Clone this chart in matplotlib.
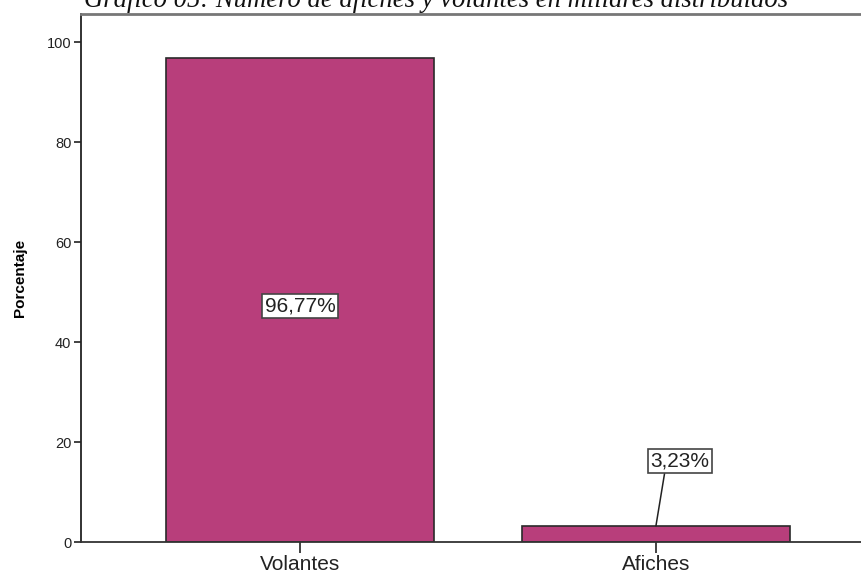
import matplotlib
matplotlib.use("Agg")
import matplotlib.pyplot as plt

categorias = ["Volantes", "Afiches"]
porcentajes = [96.77, 3.23]
etiquetas = ["96,77%", "3,23%"]
titulo = "Gráfico 05: Número de afiches y volantes en millares distribuidos"

plt.rcParams['font.family'] = ['Liberation Sans', 'DejaVu Sans']

fig = plt.figure(figsize=(8.61, 5.84), dpi=100)
ax = fig.add_axes([81 / 861, 42 / 584, 1 - 81 / 861, (542 - 14) / 584])

x = range(len(categorias))
ax.bar(x, porcentajes, width=0.753, color='#B83E7B', edgecolor='#2a2a2a', linewidth=1.2, zorder=2)

ax.set_xlim(-0.615, 1.576)
ax.set_ylim(0, 105.6)
ax.set_yticks([0, 20, 40, 60, 80, 100])
ax.set_xticks(list(x))
ax.set_xticklabels(categorias, fontsize=15, color='#222222')
ax.tick_params(axis='y', labelsize=10.5, length=5, width=1.2, colors='#222222', pad=2)
ax.tick_params(axis='x', length=8, width=1.2, colors='#222222', pad=1)

ax.spines['right'].set_visible(False)
ax.spines['left'].set_color('#222222')
ax.spines['left'].set_linewidth(1.3)
ax.spines['bottom'].set_color('#333333')
ax.spines['bottom'].set_linewidth(1.3)
ax.spines['top'].set_color('#777777')
ax.spines['top'].set_linewidth(2)

ax.set_ylabel("Porcentaje", fontsize=11, fontweight='bold', labelpad=14)

caja = dict(boxstyle='square,pad=0.12', facecolor='white', edgecolor='#444444', linewidth=1.2)

# etiqueta dentro de la barra grande
ax.text(0, porcentajes[0] / 2 - 1.2, etiquetas[0], fontsize=15, color='#222222',
        ha='center', va='center', bbox=caja, zorder=3)

# etiqueta con línea guía para la barra pequeña
ax.annotate(etiquetas[1], xy=(1.0, porcentajes[1]), xytext=(1.067, 16.2),
            fontsize=15, color='#222222', ha='center', va='center', bbox=caja,
            arrowprops=dict(arrowstyle='-', color='#222222', lw=1.1, relpos=(0.25, 0),
                            shrinkA=0, shrinkB=0), zorder=3)

# título recortado por el borde superior
fig.text(436 / 861, 1 - 7 / 584, titulo, family=['Liberation Serif', 'DejaVu Serif'],
         style='italic', fontsize=19.2, ha='center', va='baseline', color='#111111')

fig.savefig("out.png", dpi=100)
